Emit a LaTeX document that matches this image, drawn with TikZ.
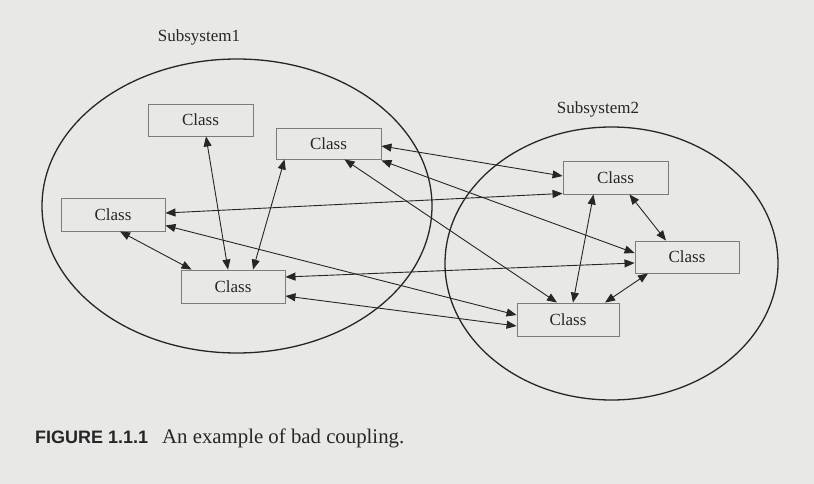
\documentclass[tikz,border=0pt]{standalone}
\usepackage{fontspec}
\setmainfont{Liberation Serif}
\newfontfamily\capsans{Liberation Sans}
\usetikzlibrary{arrows.meta}
\definecolor{pagebg}{HTML}{E8E8E6}
\definecolor{boxline}{HTML}{7C7C7C}
\definecolor{inkline}{HTML}{262626}
\begin{document}
\begin{tikzpicture}[x=1pt,y=-1pt,
  classbox/.style={draw=boxline,line width=0.9pt,fill=pagebg,inner sep=0pt,
    font=\fontsize{17}{19}\selectfont,text=inkline},
  sysring/.style={draw=inkline,line width=1.3pt},
  link/.style={draw=inkline,line width=0.9pt,{Triangle[length=10pt,width=8pt]}-{Triangle[length=10pt,width=8pt]}},
  syslabel/.style={font=\fontsize{17}{19}\selectfont,text=inkline,inner sep=0pt}]
\fill[pagebg] (0,0) rectangle (814,484);
\useasboundingbox (0,0) rectangle (814,484);
% subsystems
\draw[sysring] (237,206) ellipse [x radius=195, y radius=147];
\draw[sysring] (611.5,263.5) ellipse [x radius=166.5, y radius=136.5];
\node[syslabel] (s1) at (199,37) {Subsystem1};
\node[syslabel] (s2) at (598,109) {Subsystem2};
% classes
\node[classbox,minimum width=105pt,minimum height=32pt] (A) at (200.5,120) {Class};
\node[classbox,minimum width=105pt,minimum height=31pt] (B) at (328.5,143.5) {Class};
\node[classbox,minimum width=104pt,minimum height=33pt] (C) at (113,214.5) {Class};
\node[classbox,minimum width=104pt,minimum height=33pt] (D) at (233,286.5) {Class};
\node[classbox,minimum width=105pt,minimum height=33pt] (E) at (615.5,177.5) {Class};
\node[classbox,minimum width=104pt,minimum height=32pt] (F) at (687,257) {Class};
\node[classbox,minimum width=102pt,minimum height=33pt] (G) at (568,319.5) {Class};
% connectors inside subsystem 1
\draw[link] ([xshift=5.5pt]A.south) -- ([xshift=-5pt]D.north);
\draw[link] ([xshift=9pt]B.south west) -- ([xshift=20pt]D.north);
\draw[link] ([xshift=7pt]C.south) -- ([xshift=11pt]D.north west);
% connectors inside subsystem 2
\draw[link] ([xshift=-22pt]E.south) -- ([xshift=5pt]G.north);
\draw[link] ([xshift=14pt]E.south) -- ([xshift=-21pt]F.north);
\draw[link] ([xshift=-39pt]F.south) -- ([xshift=37pt]G.north);
% connectors across subsystems
\draw[link] ([yshift=-2.5pt]B.east) -- ([yshift=1.5pt]E.west);
\draw[link] ([yshift=-1pt]B.south east) -- ([yshift=4pt]F.west);
\draw[link] ([xshift=16pt]B.south) -- ([xshift=-11pt]G.north);
\draw[link] ([yshift=1.5pt]C.east) -- ([yshift=1pt]E.south west);
\draw[link] ([yshift=-11pt]C.east) -- ([yshift=4.5pt]G.west);
\draw[link] ([yshift=9.5pt]D.east) -- ([yshift=-6pt]F.west);
\draw[link] ([yshift=-9.5pt]D.east) -- ([yshift=-6.5pt]G.west);
% caption
\node[anchor=base west,inner sep=0pt,text=inkline,font=\capsans\bfseries\fontsize{18}{20}\selectfont] (cap1) at (35,443) {FIGURE 1.1.1};
\node[anchor=base west,inner sep=0pt,text=inkline,font=\fontsize{20.8}{23}\selectfont] (cap2) at (162,443) {An example of bad coupling.};
\end{tikzpicture}
\end{document}
